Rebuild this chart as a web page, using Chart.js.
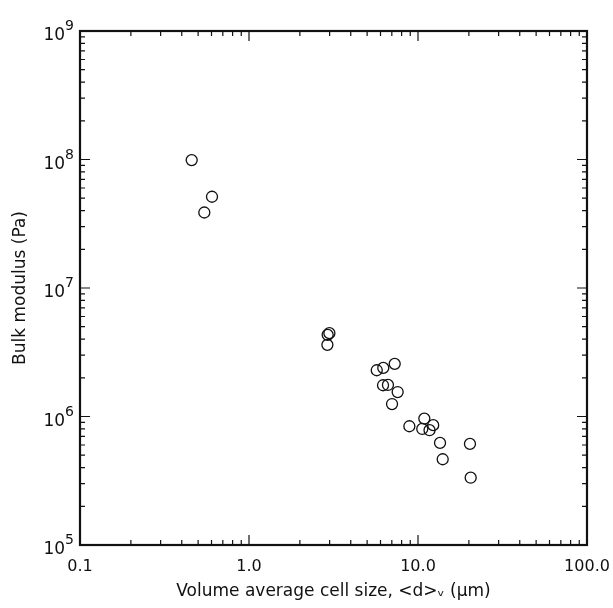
<!DOCTYPE html>
<html>
<head>
<meta charset="utf-8">
<script src="https://cdn.jsdelivr.net/npm/chart.js@4/dist/chart.umd.min.js"></script>
<style>
  body { margin: 0; background: #fff; }
  canvas { display: block; }
</style>
</head>
<body>
<canvas id="myChart" width="613" height="608"></canvas>
<script>
// cell size (um) vs bulk modulus (Pa)
const cellSize = [0.458, 0.604, 0.544, 2.99, 2.92, 2.91, 5.70, 6.23, 7.28, 6.21, 6.64, 7.58, 7.02,
                  8.89, 10.9, 10.6, 11.7, 12.3, 13.5, 14.0, 20.3, 20.5];
const bulkModulus = [9.9e7, 5.13e7, 3.87e7, 4.45e6, 4.32e6, 3.61e6, 2.29e6, 2.39e6, 2.57e6, 1.75e6, 1.76e6, 1.55e6, 1.25e6,
                     8.40e5, 9.63e5, 8.0e5, 7.82e5, 8.56e5, 6.23e5, 4.65e5, 6.12e5, 3.34e5];
const xTicks = [0.1, 1, 10, 100];
const xTickLabels = ['0.1', '1.0', '10.0', '100.0'];
const yTicks = [1e5, 1e6, 1e7, 1e8, 1e9];
const yTickExponents = ['5', '6', '7', '8', '9'];

const FONT = "'DejaVu Sans', sans-serif";
const INK = '#111';

// all 1..9 x 10^n ticks between min and max
function logTicks(min, max) {
  const out = [];
  for (let e = Math.round(Math.log10(min)); e < Math.round(Math.log10(max)); e++) {
    for (let m = 1; m < 10; m++) out.push({ value: m * Math.pow(10, e) });
  }
  out.push({ value: max });
  return out;
}
function isMajor(v) {
  const l = Math.log10(v);
  return Math.abs(l - Math.round(l)) < 1e-6;
}

// frame, inward ticks on four sides, and 10^n labels on the y axis
const framePlugin = {
  id: 'frame',
  afterDraw(chart) {
    const { ctx, chartArea: a, scales } = chart;
    ctx.save();
    ctx.strokeStyle = INK;
    ctx.lineWidth = 1.2;
    ctx.beginPath();
    scales.x.ticks.forEach(t => {
      const px = scales.x.getPixelForValue(t.value);
      const len = isMajor(t.value) ? 10 : 5;
      ctx.moveTo(px, a.bottom); ctx.lineTo(px, a.bottom - len);
      ctx.moveTo(px, a.top); ctx.lineTo(px, a.top + len);
    });
    scales.y.ticks.forEach(t => {
      const py = scales.y.getPixelForValue(t.value);
      const len = isMajor(t.value) ? 10 : 5;
      ctx.moveTo(a.left, py); ctx.lineTo(a.left + len, py);
      ctx.moveTo(a.right, py); ctx.lineTo(a.right - len, py);
    });
    ctx.stroke();

    ctx.lineWidth = 2.2;
    ctx.strokeRect(a.left, a.top, a.right - a.left, a.bottom - a.top);

    ctx.fillStyle = INK;
    ctx.textBaseline = 'alphabetic';
    yTicks.forEach((v, i) => {
      const py = scales.y.getPixelForValue(v);
      ctx.font = '14px ' + FONT;
      ctx.textAlign = 'left';
      const expW = ctx.measureText(yTickExponents[i]).width;
      const expX = a.left - 6 - expW;
      ctx.fillText(yTickExponents[i], expX, py - 1);
      ctx.font = '17px ' + FONT;
      ctx.textAlign = 'right';
      ctx.fillText('10', expX, py + 9);
    });
    ctx.restore();
  }
};

const ctx = document.getElementById('myChart').getContext('2d');
const chart = new Chart(ctx, {
  type: 'scatter',
  data: {
    datasets: [{
      data: cellSize.map((x, i) => ({ x: x, y: bulkModulus[i] })),
      pointStyle: 'circle',
      pointRadius: 5.5,
      pointHoverRadius: 5.5,
      pointBorderWidth: 1.3,
      pointBorderColor: INK,
      pointBackgroundColor: 'rgba(0,0,0,0)'
    }]
  },
  options: {
    responsive: false,
    animation: false,
    devicePixelRatio: 1,
    layout: { padding: { top: 31, right: 26, left: 0, bottom: 0 } },
    plugins: { legend: { display: false }, tooltip: { enabled: false } },
    scales: {
      x: {
        type: 'logarithmic',
        position: 'bottom',
        min: 0.1,
        max: 100,
        grid: { display: false },
        border: { display: false },
        afterBuildTicks: s => { s.ticks = logTicks(0.1, 100); },
        afterFit: s => { s.height = 63; s.paddingLeft = 0; s.paddingRight = 0; },
        ticks: {
          autoSkip: false,
          maxRotation: 0,
          padding: 4,
          color: INK,
          font: { family: FONT, size: 16 },
          callback: v => {
            const i = xTicks.findIndex(t => Math.abs(t - v) / t < 1e-6);
            return i >= 0 ? xTickLabels[i] : '';
          }
        },
        title: {
          display: true,
          text: 'Volume average cell size, <d>ᵥ (μm)',
          color: INK,
          font: { family: FONT, size: 17 },
          padding: { top: 0, bottom: 6 }
        }
      },
      y: {
        type: 'logarithmic',
        position: 'left',
        min: 1e5,
        max: 1e9,
        grid: { display: false },
        border: { display: false },
        afterBuildTicks: s => { s.ticks = logTicks(1e5, 1e9); },
        afterFit: s => { s.width = 80; },
        ticks: { display: false },
        title: {
          display: true,
          text: 'Bulk modulus (Pa)',
          color: INK,
          font: { family: FONT, size: 17 },
          padding: { top: 10, bottom: 0 }
        }
      }
    }
  },
  plugins: [framePlugin]
});
</script>
</body>
</html>
